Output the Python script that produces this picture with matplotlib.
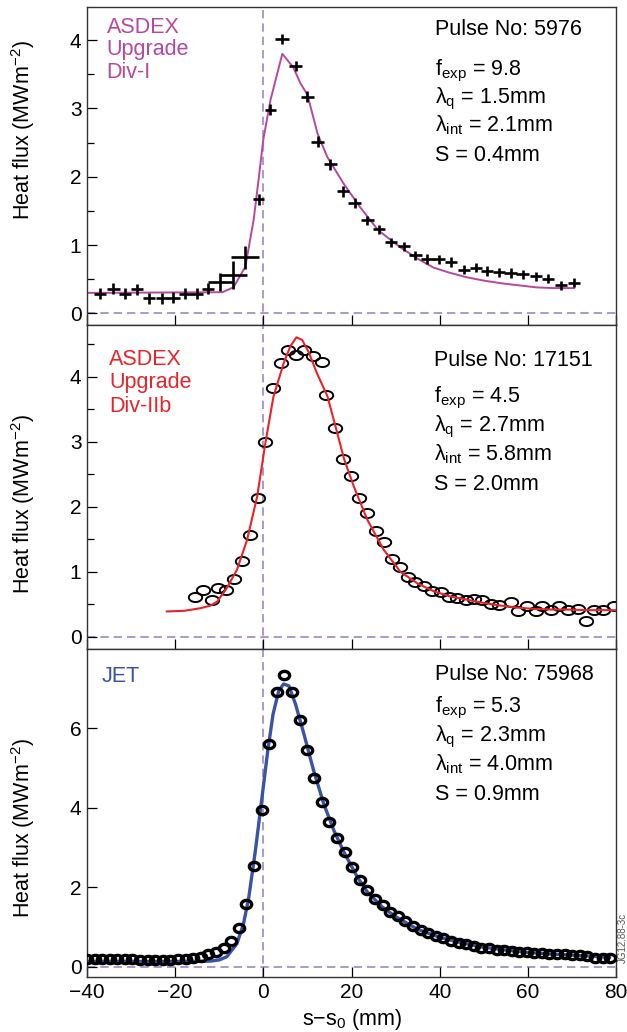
import numpy as np
import matplotlib
matplotlib.use("Agg")
import matplotlib.pyplot as plt
from matplotlib.path import Path
from matplotlib.ticker import MultipleLocator

plt.rcParams["font.family"] = ["Liberation Sans", "DejaVu Sans"]
plt.rcParams["mathtext.fontset"] = "custom"
plt.rcParams["mathtext.rm"] = "Liberation Sans"
plt.rcParams["mathtext.it"] = "Liberation Sans"

# --- ASDEX Upgrade Div-I, pulse 5976 (crosses with error bars) ---
x_div1 = [-37.0, -34.0, -31.4, -28.7, -26.0, -23.0, -20.4, -17.7, -15.0, -12.5,
          -9.8, -6.8, -4.1, -1.1, 1.6, 4.3, 7.3, 10.0, 12.3, 15.2,
          18.1, 20.7, 23.6, 26.2, 28.9, 31.9, 34.5, 37.2, 39.9, 42.5,
          45.5, 48.2, 50.8, 53.5, 56.1, 58.8, 61.8, 64.5, 67.5, 70.5]
y_div1 = [0.29, 0.36, 0.29, 0.35, 0.22, 0.22, 0.23, 0.29, 0.29, 0.36,
          0.46, 0.56, 0.82, 1.67, 2.98, 4.02, 3.62, 3.17, 2.51, 2.18,
          1.79, 1.62, 1.36, 1.23, 1.04, 0.98, 0.85, 0.80, 0.79, 0.75,
          0.64, 0.67, 0.62, 0.60, 0.59, 0.57, 0.54, 0.51, 0.41, 0.45]
xerr_div1 = [1.4, 1.4, 1.4, 1.4, 1.4, 1.4, 1.4, 1.4, 1.4, 1.4,
             2.8, 3.0, 3.2, 1.3, 1.3, 1.6, 1.4, 1.4, 1.4, 1.4,
             1.4, 1.4, 1.4, 1.4, 1.4, 1.4, 1.4, 1.4, 1.4, 1.4,
             1.4, 1.4, 1.4, 1.4, 1.4, 1.4, 1.4, 1.4, 1.4, 1.4]
yerr_div1 = [0.08, 0.08, 0.08, 0.08, 0.08, 0.08, 0.08, 0.08, 0.08, 0.08,
             0.13, 0.20, 0.17, 0.08, 0.08, 0.07, 0.07, 0.08, 0.08, 0.08,
             0.08, 0.07, 0.07, 0.07, 0.07, 0.07, 0.07, 0.07, 0.07, 0.07,
             0.07, 0.07, 0.07, 0.07, 0.07, 0.07, 0.07, 0.07, 0.07, 0.07]
xfit_div1 = [-40.0, -9.3, -6.8, -4.1, -2.2, -1.1, 0.0, 1.6, 4.3, 6.8, 8.4, 10.0,
             12.3, 14.5, 18.2, 22.0, 26.0, 31.0, 35.0, 38.6, 42.0, 46.0,
             50.0, 54.0, 58.0, 62.0, 66.0, 70.5]
yfit_div1 = [0.30, 0.31, 0.38, 0.68, 1.37, 1.95, 2.55, 3.12, 3.80, 3.60, 3.37, 3.20,
             2.63, 2.29, 1.90, 1.55, 1.22, 0.97, 0.80, 0.67, 0.60, 0.53,
             0.48, 0.44, 0.41, 0.38, 0.37, 0.37]

# --- ASDEX Upgrade Div-IIb, pulse 17151 (open ellipses) ---
x_div2 = [-15.5, -13.6, -11.7, -10.2, -8.4, -6.7, -4.8, -3.0, -1.2, 0.45,
          2.1, 3.9, 5.6, 7.5, 9.3, 11.3, 13.2, 14.3, 16.2, 18.1,
          19.9, 21.6, 23.6, 25.5, 27.3, 29.2, 31.1, 32.7, 34.5, 36.4,
          38.3, 40.2, 42.1, 44.0, 45.9, 47.8, 49.7, 51.6, 53.5, 56.1,
          57.7, 59.9, 61.8, 63.3, 65.2, 67.1, 69.0, 71.3, 73.2, 75.1,
          77.0, 79.6]
y_div2 = [0.62, 0.72, 0.57, 0.75, 0.72, 0.89, 1.17, 1.56, 2.14, 3.00,
          3.83, 4.22, 4.41, 4.34, 4.41, 4.33, 4.23, 3.72, 3.22, 2.74,
          2.48, 2.14, 1.91, 1.63, 1.46, 1.20, 1.08, 0.92, 0.85, 0.78,
          0.71, 0.69, 0.62, 0.59, 0.56, 0.58, 0.56, 0.51, 0.49, 0.54,
          0.39, 0.47, 0.39, 0.48, 0.41, 0.48, 0.42, 0.43, 0.25, 0.42,
          0.41, 0.48]
xfit_div2 = [-21.9, -18.0, -14.3, -12.0, -10.5, -8.3, -6.0, -3.7, -1.4, 0.45,
             2.3, 4.6, 6.1, 7.5, 8.8, 10.3, 12.2, 14.5, 16.4, 18.3,
             20.6, 23.6, 27.3, 31.1, 35.0, 38.7, 42.5, 46.3, 50.0, 53.9,
             57.5, 61.4, 65.0, 68.9, 74.0, 80.0]
yfit_div2 = [0.39, 0.40, 0.44, 0.48, 0.54, 0.75, 1.03, 1.49, 2.16, 2.98,
             3.70, 4.21, 4.47, 4.61, 4.57, 4.38, 4.05, 3.71, 3.23, 2.74,
             2.30, 1.80, 1.34, 1.00, 0.82, 0.70, 0.62, 0.57, 0.52, 0.48,
             0.45, 0.43, 0.42, 0.42, 0.41, 0.41]

# --- JET, pulse 75968 (thick open ellipses) ---
x_jet = [-40.0, -38.3, -36.6, -34.8, -33.1, -31.4, -29.7, -28.0, -26.2, -24.5,
         -22.8, -21.1, -19.4, -17.6, -15.9, -14.2, -12.5, -10.8, -9.0, -7.3,
         -5.6, -3.9, -2.2, -0.4, 1.3, 3.0, 4.7, 6.4, 8.2, 9.9,
         11.6, 13.3, 15.0, 16.8, 18.5, 20.2, 21.9, 23.6, 25.4, 27.1,
         28.8, 30.5, 32.2, 34.0, 35.7, 37.4, 39.1, 40.8, 42.6, 44.3,
         46.0, 47.7, 49.4, 51.2, 52.9, 54.6, 56.3, 58.0, 59.8, 61.5,
         63.2, 64.9, 66.6, 68.4, 70.1, 71.8, 73.5, 75.2, 77.0, 78.7]
y_jet = [0.19, 0.20, 0.20, 0.19, 0.20, 0.20, 0.19, 0.18, 0.18, 0.17,
         0.18, 0.18, 0.19, 0.19, 0.21, 0.25, 0.31, 0.38, 0.48, 0.65,
         0.98, 1.57, 2.53, 3.95, 5.61, 6.91, 7.35, 6.93, 6.21, 5.46,
         4.74, 4.14, 3.64, 3.25, 2.88, 2.50, 2.19, 1.94, 1.71, 1.55,
         1.38, 1.27, 1.15, 1.02, 0.93, 0.85, 0.77, 0.71, 0.65, 0.60,
         0.56, 0.52, 0.48, 0.46, 0.43, 0.41, 0.39, 0.38, 0.36, 0.35,
         0.34, 0.33, 0.32, 0.31, 0.30, 0.29, 0.28, 0.22, 0.21, 0.23]
xfit_jet = [-40.0, -20.0, -12.0, -10.0, -8.3, -6.0, -4.5, -3.3, -1.8, -0.3,
            1.0, 2.2, 3.5, 4.6, 5.8, 7.3, 9.2, 11.4, 13.7, 16.0,
            18.3, 21.3, 23.6, 27.0, 30.0, 35.0, 40.0, 45.0, 50.0, 55.0,
            60.0, 65.0, 70.0, 75.0, 78.5]
yfit_jet = [0.13, 0.13, 0.14, 0.17, 0.25, 0.58, 1.08, 1.75, 2.93, 4.27,
            5.44, 6.36, 6.95, 7.12, 7.07, 6.61, 5.86, 4.94, 4.10, 3.43,
            2.88, 2.26, 1.88, 1.50, 1.26, 0.94, 0.74, 0.60, 0.49, 0.42,
            0.36, 0.32, 0.29, 0.26, 0.24]

x_ticks = [-40, -20, 0, 20, 40, 60, 80]
jet_yticks = [0, 2, 4, 6]

MAGENTA = "#b5489f"
RED = "#e8232a"
BLUE = "#3a53a4"
DASH = "#9d88c6"
FS = 15.5


def ellipse(ratio):
    t = np.linspace(0, 2 * np.pi, 73)
    return Path(np.column_stack([np.cos(t), ratio * np.sin(t)]), closed=True)


def style_axis(ax, ylim, ymajor, yminor=None, bottom=False):
    ax.set_xlim(-40, 80)
    ax.set_ylim(*ylim)
    ax.set_xticks(x_ticks)
    if isinstance(ymajor, list):
        ax.set_yticks(ymajor)
    else:
        ax.yaxis.set_major_locator(MultipleLocator(ymajor))
    if yminor:
        ax.yaxis.set_minor_locator(MultipleLocator(yminor))
    ax.tick_params(which="major", direction="in", length=7, width=0.9,
                   labelsize=15, top=False, right=False, pad=4)
    ax.tick_params(which="minor", direction="in", length=5, width=0.9,
                   top=False, right=False)
    ax.tick_params(axis="x", labelbottom=bottom)
    for sp in ax.spines.values():
        sp.set_color("#333333")
        sp.set_linewidth(1.0)
    ax.axvline(0, color=DASH, lw=1.2, ls=(0, (5, 3)), zorder=1)
    ax.axhline(0, color=DASH, lw=1.2, ls=(0, (5, 3)), zorder=1)


def params_text(ax, ys, x0, pulse, f, lq, lint, s):
    lines = [f"Pulse No: {pulse}", f"f$_{{\\rm exp}}$ = {f}",
             f"λ$_{{\\rm q}}$ = {lq}mm", f"λ$_{{\\rm int}}$ = {lint}mm", f"S = {s}mm"]
    for y, t in zip(ys, lines):
        ax.text(x0, y, t, transform=ax.transAxes, fontsize=FS, va="baseline", ha="left")


fig = plt.figure(figsize=(6.27, 10.32), dpi=100)
left, width = 0.1388, 0.8437
ax1 = fig.add_axes([left, 0.6851, width, 0.3084])
ax2 = fig.add_axes([left, 0.3716, width, 0.3135])
ax3 = fig.add_axes([left, 0.0533, width, 0.3178])

# top panel
style_axis(ax1, (-0.17, 4.49), 1, 0.5)
ax1.plot(xfit_div1, yfit_div1, color=MAGENTA, lw=1.4, zorder=2)
ax1.errorbar(x_div1, y_div1, xerr=xerr_div1, yerr=yerr_div1, fmt="none",
             ecolor="black", elinewidth=1.9, capsize=0, zorder=3)
for y, t in zip([0.916, 0.848, 0.775], ["ASDEX", "Upgrade", "Div-I"]):
    ax1.text(0.037, y, t, transform=ax1.transAxes, color=MAGENTA, fontsize=FS, va="baseline")
params_text(ax1, [0.911, 0.785, 0.697, 0.608, 0.515], 0.658, 5976, 9.8, 1.5, 2.1, 0.4)

# middle panel
style_axis(ax2, (-0.18, 4.8), 1, 0.5)
ax2.plot(x_div2, y_div2, ls="none", marker=ellipse(0.68), ms=9.6, mfc="none",
         mec="black", mew=1.4, zorder=2)
ax2.plot(xfit_div2, yfit_div2, color=RED, lw=1.5, zorder=3)
for y, t in zip([0.876, 0.804, 0.732], ["ASDEX", "Upgrade", "Div-IIb"]):
    ax2.text(0.042, y, t, transform=ax2.transAxes, color=RED, fontsize=FS, va="baseline")
params_text(ax2, [0.873, 0.761, 0.670, 0.580, 0.490], 0.655, 17151, 4.5, 2.7, 5.8, 2.0)

# bottom panel
style_axis(ax3, (-0.26, 8.0), jet_yticks, None, bottom=True)
ax3.plot(xfit_jet, yfit_jet, color=BLUE, lw=2.4, zorder=2)
ax3.plot(x_jet, y_jet, ls="none", marker=ellipse(0.8), ms=7.4, mfc="none",
         mec="black", mew=2.4, zorder=3)
ax3.text(0.028, 0.898, "JET", transform=ax3.transAxes, color=BLUE, fontsize=FS, va="baseline")
params_text(ax3, [0.905, 0.806, 0.717, 0.629, 0.540], 0.658, 75968, 5.3, 2.3, 4.0, 0.9)
ax3.set_xlabel("s−s$_0$ (mm)", fontsize=FS, labelpad=4)

for yc in [0.874, 0.512, 0.198]:
    fig.text(0.037, yc, "Heat flux (MWm$^{-2}$)", rotation=90, fontsize=FS,
             ha="center", va="center")

fig.text(0.994, 0.091, "JG12.88-3c", rotation=90, fontsize=7, color="#555555",
         ha="center", va="center")

fig.savefig("out.png", dpi=100)
